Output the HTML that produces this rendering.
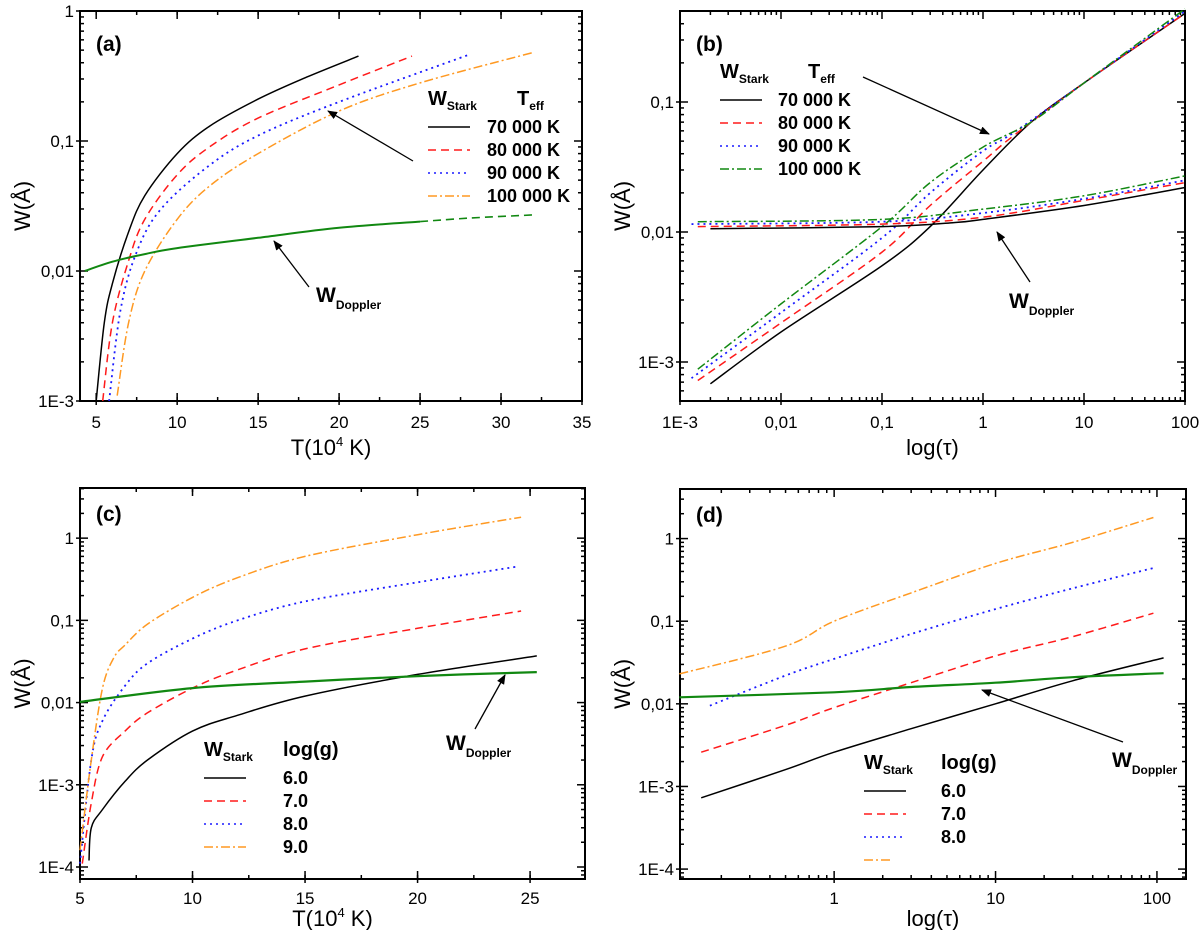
<!DOCTYPE html>
<html><head><meta charset="utf-8">
<style>
html,body{margin:0;padding:0;background:#fff;}
svg{display:block;font-family:"Liberation Sans",Arial,sans-serif;}
</style></head>
<body>
<svg id="fig" width="1200" height="930" viewBox="0 0 1200 930" xmlns="http://www.w3.org/2000/svg">
<defs>
<marker id="ah" markerWidth="10" markerHeight="8" refX="9" refY="4" orient="auto" markerUnits="userSpaceOnUse"><path d="M0,0 L10,4 L0,8 z" fill="#000"/></marker>
</defs>
</svg>
<script>
// ---------- Panel (a) data: W vs T (10^4 K) ----------
const a_black_x=[5.0,5.5,6,7,8,10,12,15,18,21.2];
const a_black_y=[0.001,0.004,0.008,0.02,0.038,0.08,0.13,0.21,0.31,0.45];
const a_red_x=[5.4,6,7,8,10,12,15,20,24.5];
const a_red_y=[0.001,0.004,0.012,0.025,0.055,0.09,0.15,0.27,0.45];
const a_blue_x=[5.8,6.5,7.5,9,12,15,20,28];
const a_blue_y=[0.001,0.005,0.014,0.03,0.065,0.11,0.2,0.46];
const a_orange_x=[6.3,7,8,10,12,15,20,25,32];
const a_orange_y=[0.0011,0.004,0.01,0.025,0.045,0.08,0.17,0.28,0.48];
const a_dop_x=[4.3,6,8,10,15,20,25];
const a_dop_y=[0.0100,0.0118,0.0135,0.015,0.018,0.0215,0.024];
const a_dopext_x=[25,28,32];
const a_dopext_y=[0.024,0.0255,0.027];
// ---------- Panel (b) data: W vs tau ----------
const b_black_x=[0.002,0.01,0.1,0.3,1,3,10,100];
const b_black_y=[0.00068,0.0017,0.0055,0.011,0.03,0.07,0.14,0.48];
const b_red_x=[0.0015,0.01,0.1,0.3,1,2,10,100];
const b_red_y=[0.00072,0.002,0.007,0.016,0.035,0.055,0.14,0.48];
const b_blue_x=[0.0013,0.01,0.1,0.3,1,2,10,100];
const b_blue_y=[0.00075,0.0024,0.009,0.02,0.042,0.058,0.14,0.5];
const b_green_x=[0.0015,0.01,0.1,0.3,1,3,10,100];
const b_green_y=[0.00088,0.0028,0.011,0.024,0.045,0.07,0.14,0.52];
const b_dblack_x=[0.002,0.1,0.5,1,10,100];
const b_dblack_y=[0.0106,0.011,0.0118,0.0125,0.016,0.022];
const b_dred_x=[0.0015,0.1,1,10,100];
const b_dred_y=[0.011,0.0115,0.013,0.0175,0.024];
const b_dblue_x=[0.0013,0.1,1,10,100];
const b_dblue_y=[0.0115,0.012,0.014,0.018,0.025];
const b_dgreen_x=[0.0015,0.1,1,10,100];
const b_dgreen_y=[0.012,0.0125,0.015,0.019,0.027];
// ---------- Panel (c) data ----------
const c_black_x=[5.4,5.5,6,7,8,10,12,15,20,25.3];
const c_black_y=[0.00012,0.0003,0.0005,0.0011,0.002,0.0045,0.007,0.012,0.022,0.037];
const c_red_x=[5.1,5.5,6,7,8,10,12,15,20,24.6];
const c_red_y=[0.00011,0.0006,0.0022,0.0045,0.0075,0.015,0.025,0.045,0.08,0.13];
const c_blue_x=[5.0,5.5,6,7,8,10,12,15,20,24.4];
const c_blue_y=[0.00011,0.002,0.006,0.016,0.03,0.06,0.1,0.17,0.29,0.45];
const c_orange_x=[5.0,5.5,6,6.5,7,8,10,12,15,20,24.6];
const c_orange_y=[0.00016,0.002,0.015,0.035,0.05,0.09,0.19,0.33,0.6,1.1,1.8];
const c_dop_x=[5,10,15,20,25.3];
const c_dop_y=[0.0102,0.015,0.018,0.021,0.0235];
// ---------- Panel (d) data ----------
const d_black_x=[0.15,0.5,1,3,10,30,110];
const d_black_y=[0.00073,0.0016,0.0026,0.005,0.01,0.019,0.036];
const d_red_x=[0.15,0.5,1,3,10,30,95];
const d_red_y=[0.0026,0.0055,0.009,0.018,0.038,0.065,0.125];
const d_blue_x=[0.17,0.5,1,3,10,30,95];
const d_blue_y=[0.0095,0.022,0.035,0.07,0.14,0.25,0.44];
const d_orange_x=[0.11,0.5,1,3,10,30,95];
const d_orange_y=[0.023,0.05,0.1,0.22,0.5,0.9,1.8];
const d_dop_x=[0.11,1,3,10,30,110];
const d_dop_y=[0.012,0.0138,0.016,0.018,0.021,0.0235];
// tick labels
const a_xticks=[5,10,15,20,25,30,35];
const a_yticks=[0.001,0.01,0.1,1];
const a_ylabels=["1E-3","0,01","0,1","1"];
const b_xticks=[0.001,0.01,0.1,1,10,100];
const b_xlabels=["1E-3","0,01","0,1","1","10","100"];
const b_yticks=[0.001,0.01,0.1];
const b_ylabels=["1E-3","0,01","0,1"];
const c_xticks=[5,10,15,20,25];
const cd_yticks=[0.0001,0.001,0.01,0.1,1];
const cd_ylabels=["1E-4","1E-3","0,01","0,1","1"];
const d_xticks=[1,10,100];
const d_xlabels=["1","10","100"];

const NS="http://www.w3.org/2000/svg";
const svg=document.getElementById('fig');
function mk(tag,attrs,parent){const e=document.createElementNS(NS,tag);for(const k in attrs)e.setAttribute(k,attrs[k]);(parent||svg).appendChild(e);return e;}

function makeScale(type,d0,d1,p0,p1){
  if(type==='log'){const l0=Math.log10(d0),l1=Math.log10(d1);return v=>p0+(Math.log10(v)-l0)/(l1-l0)*(p1-p0);}
  return v=>p0+(v-d0)/(d1-d0)*(p1-p0);
}

function panel(cfg){
  const g=mk('g',{});
  
  
  const L=cfg.L,R=cfg.R,T=cfg.T,B=cfg.B;
  const sx=makeScale(cfg.xtype,cfg.x0,cfg.x1,L,R);
  const sy=makeScale('log',cfg.y0,cfg.y1,B,T);
  const ax=mk('g',{stroke:'#000','stroke-width':1.5},g);
  
  
  mk('rect',{x:L,y:T,width:R-L,height:B-T,fill:'none','stroke-width':2},ax);
  const xmaj=cfg.xticks, xmin=[];
  if(cfg.xtype==='log'){
    for(let e=Math.floor(Math.log10(cfg.x0));e<=Math.ceil(Math.log10(cfg.x1));e++)
      for(let m=2;m<=9;m++){const v=m*Math.pow(10,e);if(v>cfg.x0&&v<cfg.x1)xmin.push(v);}
  } else {
    for(let v=Math.ceil(cfg.x0/cfg.xminor)*cfg.xminor;v<=cfg.x1;v+=cfg.xminor)xmin.push(v);
  }
  xmin.forEach(v=>{const x=sx(v);mk('line',{x1:x,x2:x,y1:B,y2:B-4},ax);mk('line',{x1:x,x2:x,y1:T,y2:T+4},ax);});
  xmaj.forEach((v,i)=>{const x=sx(v);mk('line',{x1:x,x2:x,y1:B+4,y2:B-8},ax);mk('line',{x1:x,x2:x,y1:T,y2:T+8},ax);
    const t=mk('text',{x:x,y:B+cfg.tly,'text-anchor':'middle','font-size':17,fill:'#000'},g);
    
    
    t.textContent=cfg.xlabels?cfg.xlabels[i]:String(v);});
  const ymin=[];
  for(let e=Math.floor(Math.log10(cfg.y0));e<=Math.ceil(Math.log10(cfg.y1));e++)
    for(let m=2;m<=9;m++){const v=m*Math.pow(10,e);if(v>cfg.y0&&v<cfg.y1)ymin.push(v);}
  ymin.forEach(v=>{const y=sy(v);mk('line',{x1:L,x2:L+4,y1:y,y2:y},ax);mk('line',{x1:R,x2:R-4,y1:y,y2:y},ax);});
  cfg.yticks.forEach((v,i)=>{const y=sy(v);mk('line',{x1:L-4,x2:L+8,y1:y,y2:y},ax);mk('line',{x1:R,x2:R-8,y1:y,y2:y},ax);
    const t=mk('text',{x:L-6,y:y+6,'text-anchor':'end','font-size':17,fill:'#000'},g);
    
    
    t.textContent=cfg.ylabels[i];});
  const cy=(T+B)/2;
  const yt=mk('text',{x:0,y:0,transform:`translate(${L-50},${cy}) rotate(-90)`,'text-anchor':'middle','font-size':22,fill:'#000'},g);
  
  
  yt.textContent='W(Å)';
  const xt=mk('text',{x:(L+R)/2,y:B+cfg.tty,'text-anchor':'middle','font-size':22,fill:'#000'},g);
  
  
  if(cfg.xtitle==='T'){xt.innerHTML='T(10<tspan dy="-9" font-size="13">4</tspan><tspan dy="9"> K)</tspan>';}
  else xt.textContent='log(τ)';
  const pl=mk('text',{x:L+16,y:T+cfg.ply,'font-size':21,'font-weight':'bold',fill:'#000'},g);
  
  
  pl.textContent=cfg.label;
  return {g,sx,sy};
}

function series(p,xs,ys,color,dash,w,name){
  const P=xs.map((v,i)=>[p.sx(v),p.sy(ys[i])]);
  let d='M'+P[0][0].toFixed(1)+','+P[0][1].toFixed(1);
  for(let i=0;i<P.length-1;i++){
    const p0=P[Math.max(i-1,0)],p1=P[i],p2=P[i+1],p3=P[Math.min(i+2,P.length-1)];
    const c1=[p1[0]+(p2[0]-p0[0])/6,p1[1]+(p2[1]-p0[1])/6];
    const c2=[p2[0]-(p3[0]-p1[0])/6,p2[1]-(p3[1]-p1[1])/6];
    d+='C'+c1[0].toFixed(1)+','+c1[1].toFixed(1)+' '+c2[0].toFixed(1)+','+c2[1].toFixed(1)+' '+p2[0].toFixed(1)+','+p2[1].toFixed(1);
  }
  const e=mk('path',{d:d,fill:'none',stroke:color,'stroke-width':w,'stroke-dasharray':dash||'none','stroke-linejoin':'round'},p.g);
  
  
}
const DASH='8,5', DOT='2,4', DD='9,3,2,3';
const BLK='#000', RED='#ff1a1a', BLU='#1a1aff', ORG='#ff9922', GRN='#118811';

function legend(g,x,y,hdr2,x2,lx,labels,styles,name){
  const lg=mk('g',{},g);
  
  
  const t=mk('text',{x:x,y:y,'font-size':20,'font-weight':'bold',fill:'#000'},lg);
  t.innerHTML='W<tspan font-size="12" dy="5">Stark</tspan>';
  const t2=mk('text',{x:x2,y:y,'font-size':20,'font-weight':'bold',fill:'#000'},lg);
  if(hdr2==='T') t2.innerHTML='T<tspan font-size="12" dy="5">eff</tspan>'; else t2.textContent=hdr2;
  styles.forEach((s,i)=>{
    const yy=y+28+i*23;
    const ln=mk('line',{x1:x,x2:x+(s[2]||42),y1:yy-6,y2:yy-6,stroke:s[0],'stroke-width':1.5,'stroke-dasharray':s[1]||'none'},lg);
    
    
    if(labels[i]){const lt=mk('text',{x:lx,y:yy,'font-size':18,'font-weight':'bold',fill:'#000'},lg);
      
      
      lt.textContent=labels[i];}
  });
}
function arrow(g,x1,y1,x2,y2){
  const a=mk('line',{x1,y1,x2,y2,stroke:'#000','stroke-width':1.3,'marker-end':'url(#ah)'},g);
  
  
}
function dopLabel(g,x,y){
  const t=mk('text',{x:x,y:y,'font-size':21,'font-weight':'bold',fill:'#000'},g);
  
  
  t.innerHTML='W<tspan font-size="12" dy="7">Doppler</tspan>';
}

// Panel a
const pa=panel({name:'panel-a',L:80,R:582,T:11,B:401,tly:27,tty:54,ply:40,xtype:'lin',x0:4,x1:35,xminor:2.5,xticks:a_xticks,y0:0.001,y1:1,yticks:a_yticks,ylabels:a_ylabels,xtitle:'T',label:'(a)'});
series(pa,a_black_x,a_black_y,BLK,null,1.5,'line-70000K');
series(pa,a_red_x,a_red_y,RED,DASH,1.5,'line-80000K');
series(pa,a_blue_x,a_blue_y,BLU,DOT,1.8,'line-90000K');
series(pa,a_orange_x,a_orange_y,ORG,DD,1.5,'line-100000K');
series(pa,a_dop_x,a_dop_y,GRN,null,2,'line-doppler');
series(pa,a_dopext_x,a_dopext_y,GRN,DASH,1.6,'line-doppler-ext');
legend(pa.g,428,105,'T',517,487,['70 000 K','80 000 K','90 000 K','100 000 K'],[[BLK],[RED,DASH],[BLU,DOT],[ORG,DD]],'legend-a');
arrow(pa.g,413,161,328,111);
dopLabel(pa.g,316,302);
arrow(pa.g,309,287,274,241);

// Panel b
const pb=panel({name:'panel-b',L:680,R:1185,T:11,B:401,tly:27,tty:54,ply:40,xtype:'log',x0:0.001,x1:100,xticks:b_xticks,xlabels:b_xlabels,y0:Math.pow(10,-3.3),y1:Math.pow(10,-0.3),yticks:b_yticks,ylabels:b_ylabels,xtitle:'tau',label:'(b)'});
series(pb,b_black_x,b_black_y,BLK,null,1.5,'line-stark-70000K');
series(pb,b_red_x,b_red_y,RED,DASH,1.5,'line-stark-80000K');
series(pb,b_blue_x,b_blue_y,BLU,DOT,1.8,'line-stark-90000K');
series(pb,b_green_x,b_green_y,GRN,DD,1.5,'line-stark-100000K');
series(pb,b_dblack_x,b_dblack_y,BLK,null,1.5,'line-doppler-70000K');
series(pb,b_dred_x,b_dred_y,RED,DASH,1.5,'line-doppler-80000K');
series(pb,b_dblue_x,b_dblue_y,BLU,DOT,1.8,'line-doppler-90000K');
series(pb,b_dgreen_x,b_dgreen_y,GRN,DD,1.5,'line-doppler-100000K');
legend(pb.g,720,78,'T',808,778,['70 000 K','80 000 K','90 000 K','100 000 K'],[[BLK],[RED,DASH],[BLU,DOT],[GRN,DD]],'legend-b');
arrow(pb.g,863,77,989,134);
dopLabel(pb.g,1009,308);
arrow(pb.g,1030,282,997,232);

// Panel c
const pc=panel({name:'panel-c',L:80,R:585,T:488,B:879,tly:25,tty:47,ply:33,xtype:'lin',x0:5,x1:27.44,xminor:2.5,xticks:c_xticks,y0:Math.pow(10,-4.146),y1:Math.pow(10,0.61),yticks:cd_yticks,ylabels:cd_ylabels,xtitle:'T',label:'(c)'});
series(pc,c_black_x,c_black_y,BLK,null,1.5,'line-logg-6');
series(pc,c_red_x,c_red_y,RED,DASH,1.5,'line-logg-7');
series(pc,c_blue_x,c_blue_y,BLU,DOT,1.8,'line-logg-8');
series(pc,c_orange_x,c_orange_y,ORG,DD,1.5,'line-logg-9');
series(pc,c_dop_x,c_dop_y,GRN,null,2.2,'line-doppler');
legend(pc.g,204,756,'log(g)',283,283,['6.0','7.0','8.0','9.0'],[[BLK],[RED,DASH],[BLU,DOT],[ORG,DD]],'legend-c');
dopLabel(pc.g,446,750);
arrow(pc.g,475,729,505,675);

// Panel d
const pd=panel({name:'panel-d',L:680,R:1186,T:489,B:879,tly:25,tty:47,ply:33,xtype:'log',x0:Math.pow(10,-0.955),x1:Math.pow(10,2.18),xticks:d_xticks,xlabels:d_xlabels,y0:Math.pow(10,-4.12),y1:Math.pow(10,0.6),yticks:cd_yticks,ylabels:cd_ylabels,xtitle:'tau',label:'(d)'});
series(pd,d_black_x,d_black_y,BLK,null,1.5,'line-logg-6');
series(pd,d_red_x,d_red_y,RED,DASH,1.5,'line-logg-7');
series(pd,d_blue_x,d_blue_y,BLU,DOT,1.8,'line-logg-8');
series(pd,d_orange_x,d_orange_y,ORG,DD,1.5,'line-logg-9');
series(pd,d_dop_x,d_dop_y,GRN,null,2.2,'line-doppler');
legend(pd.g,864,769,'log(g)',941,941,['6.0','7.0','8.0',''],[[BLK],[RED,DASH],[BLU,DOT],[ORG,DD,28]],'legend-d');
dopLabel(pd.g,1112,767);
arrow(pd.g,1123,742,982,690);
</script>
</body></html>
